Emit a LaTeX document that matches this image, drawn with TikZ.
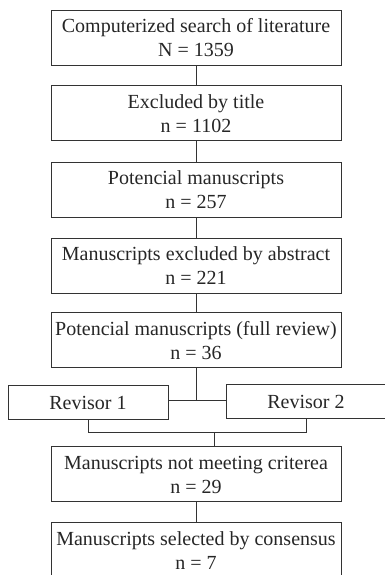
\documentclass[tikz,border=0pt]{standalone}
\usepackage{fontspec}
\setmainfont{Liberation Serif}
\usetikzlibrary{calc}

\begin{document}
\begin{tikzpicture}[x=1pt, y=1pt,
    box/.style={draw=black!80, line width=1pt, minimum width=290pt, minimum height=55pt,
        align=center, inner sep=0pt, text=black!85, font=\fontsize{20}{24}\selectfont},
    revbox/.style={box, minimum width=160pt, minimum height=34pt},
    link/.style={draw=black!80, line width=1pt}]

        % Picture frame (the lower box and Revisor 2 run past it)
        \useasboundingbox (0,0) rectangle (385,575);
        \clip (0,0) rectangle (385,575);

        % Main column
        \def\xc{196}
        \node[box] (search) at (\xc,537) {Computerized search of literature\\N = 1359};
        \node[box] (title) at (\xc,461.5) {Excluded by title\\n = 1102};
        \node[box] (potential) at (\xc,385) {Potencial manuscripts\\n = 257};
        \node[box] (abstract) at (\xc,309) {Manuscripts excluded by abstract\\n = 221};
        \node[box] (full) at (\xc,234.5) {Potencial manuscripts (full review)\\n = 36};

        % The two revisors
        \node[revbox] (rev1) at (88,172) {Revisor 1};
        \node[revbox] (rev2) at (306,173.5) {Revisor 2};

        % Results
        \node[box] (criteria) at (\xc,100.5) {Manuscripts not meeting criterea\\n = 29};
        \node[box] (consensus) at (\xc,24.5) {Manuscripts selected by consensus\\n = 7};

        % Vertical links of the main column
        \draw[link] (search) -- (title);
        \draw[link] (title) -- (potential);
        \draw[link] (potential) -- (abstract);
        \draw[link] (abstract) -- (full);

        % Split towards the revisors
        \coordinate (split) at (\xc,174);
        \draw[link] (full) -- (split);
        \draw[link] (rev1.east |- split) -- (rev2.west |- split);

        % Join of the revisors
        \coordinate (join) at (214,142);
        \draw[link] (rev1.south) |- (rev2.south |- join) -- (rev2.south);
        \draw[link] (join) -- (criteria.north -| join);

        \draw[link] (criteria) -- (consensus);

    \end{tikzpicture}
\end{document}
